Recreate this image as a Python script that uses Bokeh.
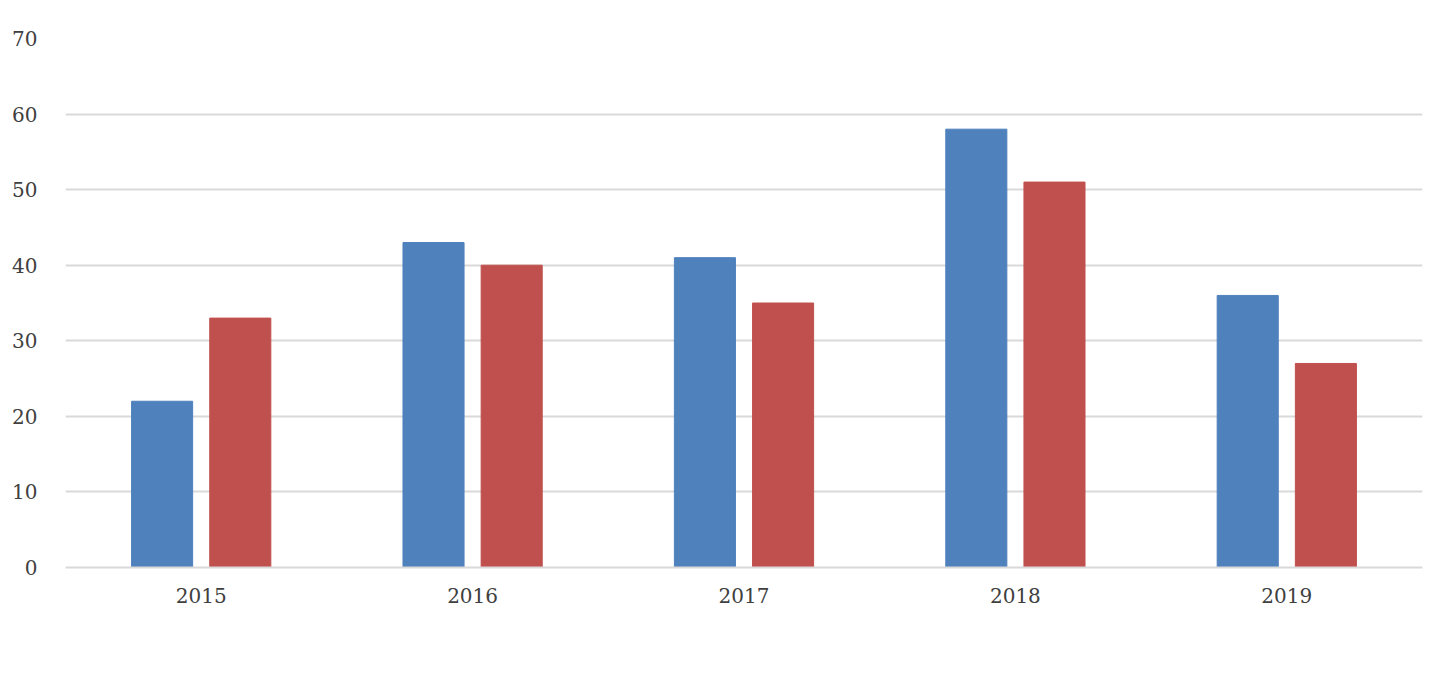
from bokeh.plotting import figure
from bokeh.models import ColumnDataSource, Legend, LegendItem, FixedTicker
from bokeh.transform import dodge
from bokeh.embed import file_html
from bokeh.resources import INLINE

years = ["2015", "2016", "2017", "2018", "2019"]
laki = [22, 43, 41, 58, 36]
perempuan = [33, 40, 35, 51, 27]

src = ColumnDataSource(dict(x=list(range(len(years))), laki=laki, perempuan=perempuan))

p = figure(width=1434, height=663, output_backend="svg", toolbar_location=None,
           x_range=(-0.5, 4.5), y_range=(0, 70),
           min_border_left=65, min_border_right=12, min_border_top=38, min_border_bottom=96)
p.outline_line_color = None
FONT = "DejaVu Serif"

r1 = p.vbar(x=dodge("x", -0.144), top="laki", width=0.225, source=src, color="#4f81bd")
r2 = p.vbar(x=dodge("x", 0.144), top="perempuan", width=0.225, source=src, color="#c0504d")

p.xaxis.ticker = FixedTicker(ticks=list(range(len(years))))
p.xaxis.major_label_overrides = {i: y for i, y in enumerate(years)}
p.yaxis.ticker = FixedTicker(ticks=list(range(0, 71, 10)))
for ax in (p.xaxis, p.yaxis):
    ax.major_tick_line_color = None
    ax.minor_tick_line_color = None
    ax.major_label_text_font = FONT
    ax.major_label_text_font_size = "15pt"
    ax.major_label_text_color = "#404040"
p.yaxis.axis_line_color = None
p.xaxis.axis_line_color = "#d9d9d9"
p.xaxis.axis_line_width = 2
p.xaxis.major_label_standoff = 14
p.yaxis.major_label_standoff = 22
p.xgrid.grid_line_color = None
p.ygrid.grid_line_color = "#d9d9d9"
p.ygrid.grid_line_width = 2

legend = Legend(items=[LegendItem(label="Laki-laki", renderers=[r1]),
                       LegendItem(label="Perempuan", renderers=[r2])],
                orientation="horizontal", location=(505, -106),
                label_text_font=FONT, label_text_font_size="15pt", label_text_color="#404040",
                border_line_color=None, background_fill_alpha=0,
                glyph_width=14, glyph_height=14, spacing=20)
p.add_layout(legend, "center")

open("out.html", "w").write(file_html(p, INLINE))
